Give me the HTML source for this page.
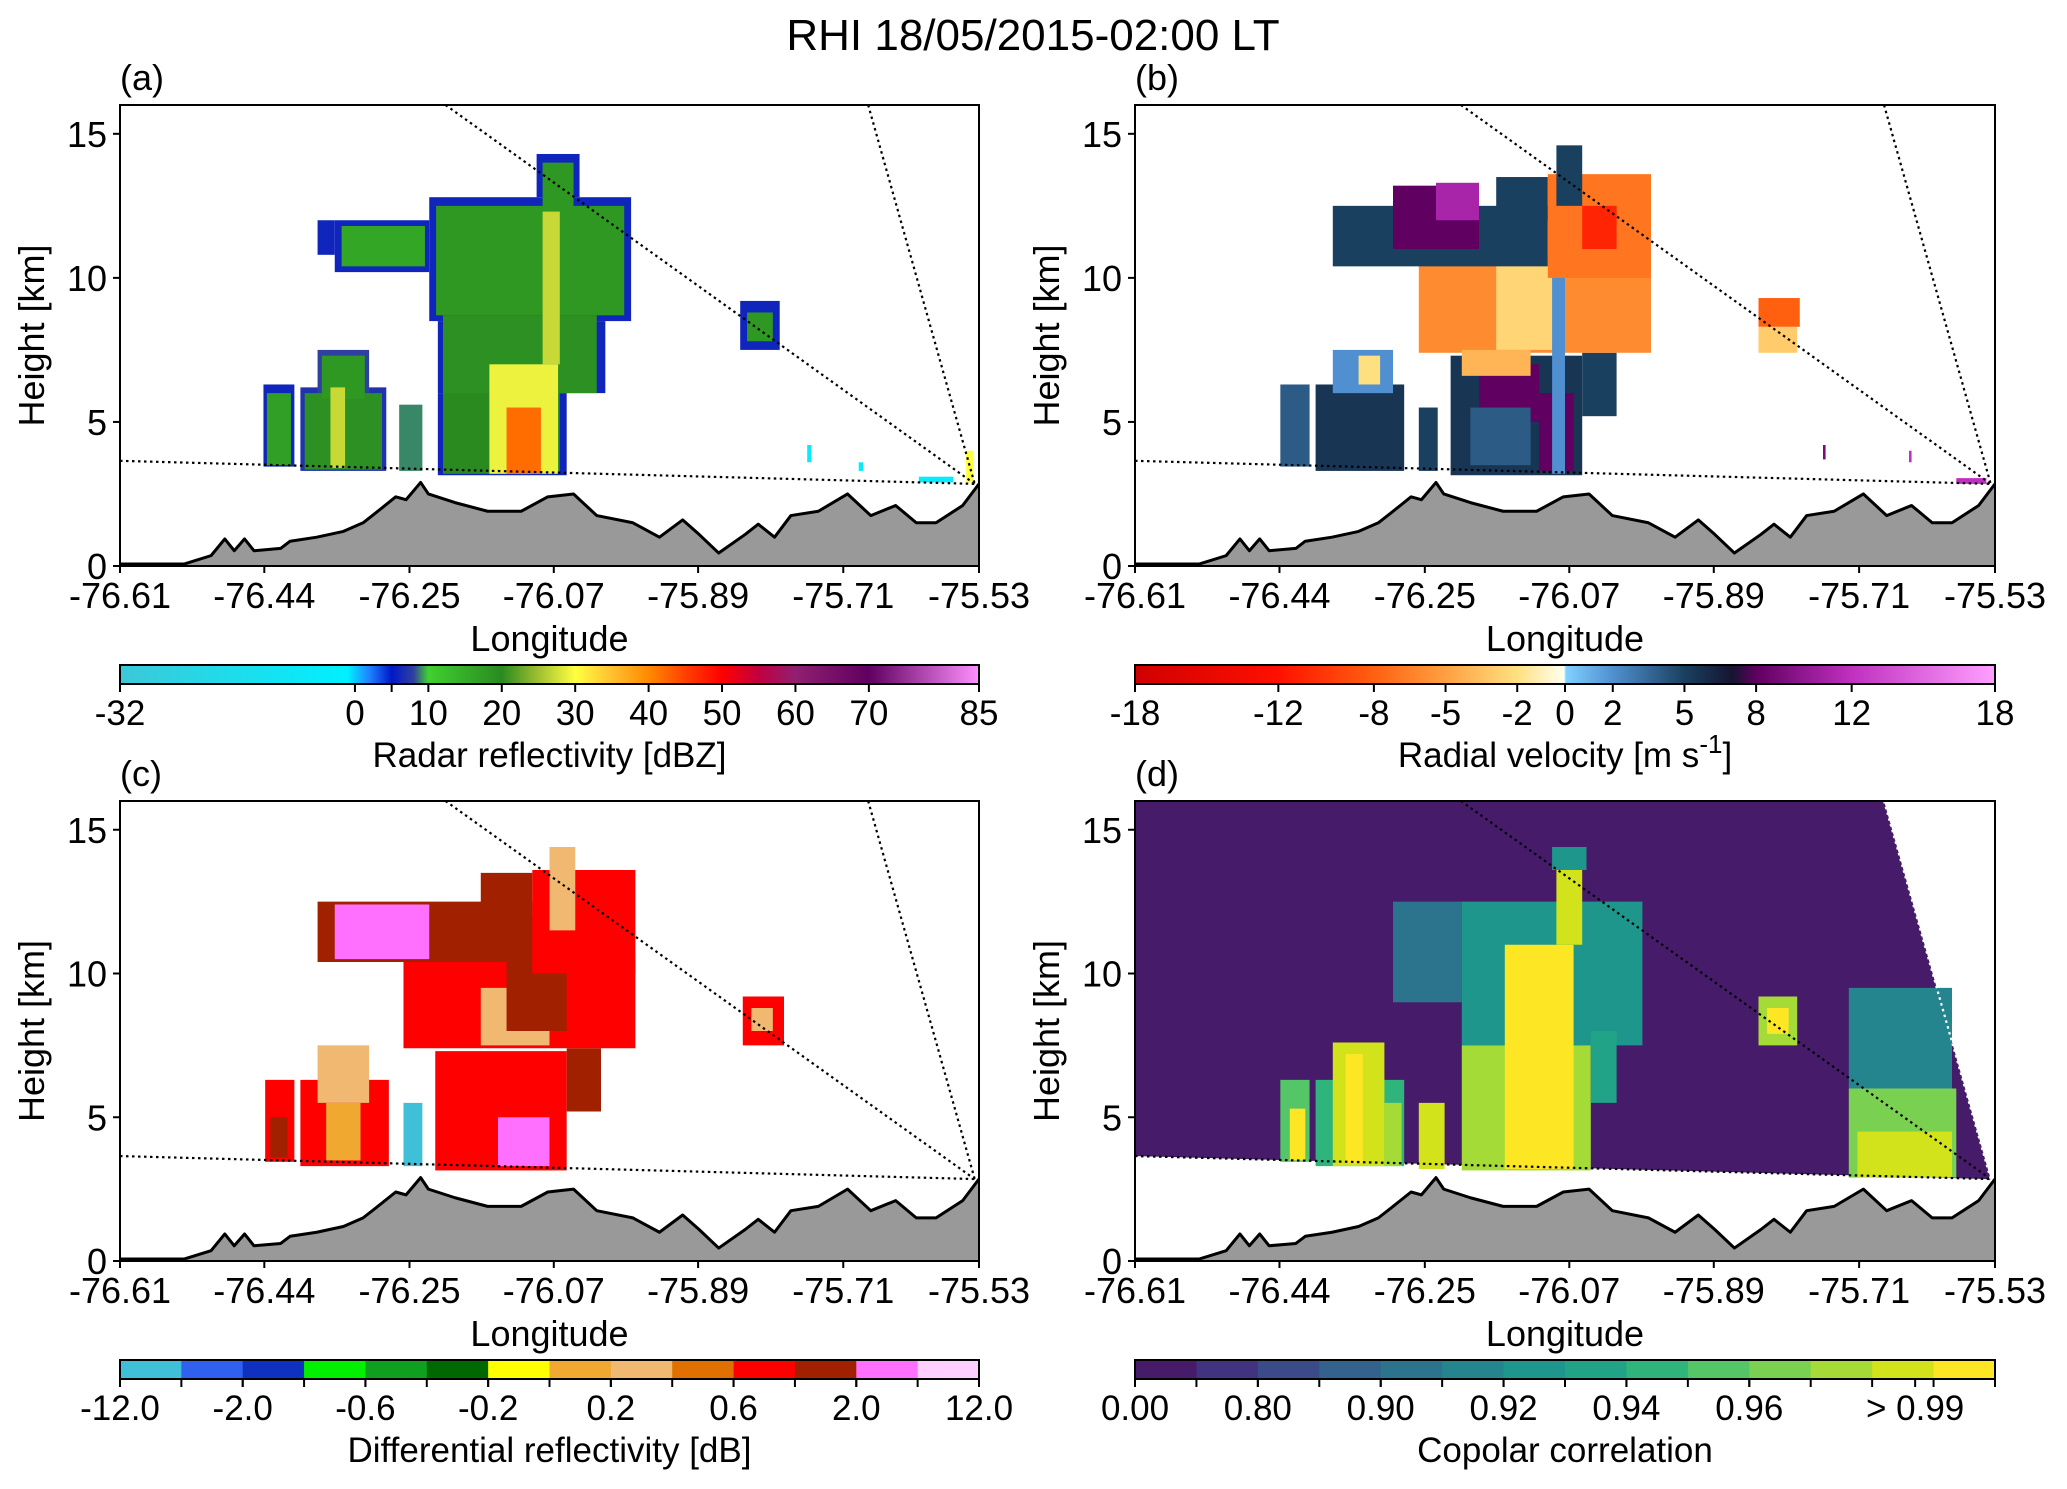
<!DOCTYPE html>
<html><head><meta charset="utf-8">
<style>
html,body{margin:0;padding:0;background:#fff;}
svg{display:block;font-family:"Liberation Sans",sans-serif;}
</style></head>
<body>
<svg id="fig" width="2067" height="1489" viewBox="0 0 2067 1489" xmlns="http://www.w3.org/2000/svg">
<text x="1033" y="50" font-size="44" text-anchor="middle">RHI 18/05/2015-02:00 LT</text>
</svg>
<script>
// ---------- DATA ----------
const xTickLabels = ["-76.61","-76.44","-76.25","-76.07","-75.89","-75.71","-75.53"];
const xTickFrac = [0,0.168,0.337,0.505,0.673,0.842,1.0];
const yTicks = [0,5,10,15];
// terrain profile: [x fraction, height km]
const terrainX = [0,0.075,0.106,0.122,0.133,0.145,0.156,0.187,0.198,0.229,0.26,0.283,0.298,0.321,0.333,0.35,0.359,0.39,0.428,0.467,0.498,0.528,0.555,0.597,0.628,0.655,0.674,0.697,0.728,0.743,0.762,0.781,0.813,0.847,0.874,0.903,0.927,0.95,0.981,1.0];
const terrainH = [0.07,0.07,0.36,0.94,0.53,0.94,0.53,0.61,0.86,1.0,1.2,1.5,1.85,2.4,2.3,2.9,2.5,2.2,1.9,1.9,2.4,2.5,1.75,1.5,1.0,1.6,1.1,0.45,1.1,1.45,1.0,1.75,1.9,2.5,1.75,2.1,1.5,1.5,2.1,2.85];
// beam lines [x0,h0,x1,h1]
const beamLow = [0,3.65,0.995,2.85];
const beamHigh = [0.379,16,0.995,2.85];
const beamRight = [0.871,16,0.995,2.85];

// echoes: [x0,x1,bottom km,top km,value]
const echoA = [
 [0.167,0.203,3.45,6.3,6],[0.171,0.199,3.5,6.0,17],
 [0.21,0.31,3.3,6.2,7],[0.23,0.29,6.0,7.5,8],[0.215,0.305,3.35,6.0,19],[0.235,0.285,5.8,7.3,18],[0.245,0.262,3.4,6.2,27],
 [0.325,0.352,3.3,5.6,9],
 [0.23,0.25,10.8,12.0,6],[0.25,0.36,10.2,12.0,6],[0.36,0.595,8.5,12.8,6],[0.37,0.52,3.15,6.0,6],[0.37,0.565,6.0,8.5,6],[0.485,0.535,12.8,14.3,6],
 [0.258,0.355,10.4,11.8,16],[0.368,0.587,8.7,12.5,18],[0.376,0.512,3.2,6.0,20],[0.376,0.555,6.0,8.7,19],[0.492,0.528,12.3,14.0,18],
 [0.43,0.51,3.2,7.0,29],[0.492,0.512,7.0,12.3,27],[0.45,0.49,3.2,5.5,42],
 [0.722,0.768,7.5,9.2,6],[0.73,0.76,7.8,8.8,18],
 [0.985,0.993,2.9,4.0,30],[0.8,0.805,3.6,4.2,-5],[0.86,0.865,3.3,3.6,-5],[0.93,0.97,2.9,3.1,-5]
];
const echoB = [
 [0.169,0.203,3.45,6.3,4],
 [0.21,0.313,3.3,6.3,5.5],[0.23,0.3,6.0,7.5,2],[0.26,0.285,6.3,7.3,-2],
 [0.33,0.352,3.3,5.5,5],
 [0.367,0.52,3.15,7.3,5.5],[0.52,0.56,5.2,7.4,5],[0.4,0.47,5.0,7.0,8],[0.47,0.51,3.3,6.0,8],[0.39,0.46,3.5,5.5,4],
 [0.33,0.6,7.4,10.5,-6],[0.42,0.5,7.5,10.5,-2.5],[0.38,0.46,6.6,7.5,-4],[0.485,0.5,3.2,12,2],
 [0.23,0.48,10.4,12.5,5],[0.3,0.4,11,13.2,8],[0.35,0.4,12,13.3,11],[0.42,0.48,12,13.5,5],
 [0.48,0.6,10,13.6,-7],[0.52,0.56,11,12.5,-11],[0.49,0.52,12.5,14.6,5],
 [0.725,0.773,8.3,9.3,-8],[0.725,0.77,7.4,8.3,-3],
 [0.8,0.803,3.7,4.2,9],[0.9,0.903,3.6,4.0,12],[0.955,0.99,2.85,3.05,12]
];
const echoC = [
 [0.169,0.203,3.45,6.3,10],[0.175,0.195,3.6,5.0,11],
 [0.21,0.313,3.3,6.3,10],[0.23,0.29,5.5,7.5,8],[0.24,0.28,3.5,5.5,7],
 [0.33,0.352,3.3,5.5,0],
 [0.367,0.52,3.15,7.3,10],[0.52,0.56,5.2,7.4,11],[0.44,0.5,3.3,5.0,12],
 [0.33,0.6,7.4,10.5,10],[0.42,0.5,7.5,9.5,8],
 [0.23,0.48,10.4,12.5,11],[0.25,0.36,10.5,12.4,12],[0.42,0.48,12,13.5,11],[0.45,0.52,8,12,11],
 [0.48,0.6,10,13.6,10],[0.5,0.53,11.5,14.4,8],
 [0.725,0.773,7.5,9.2,10],[0.735,0.76,8,8.8,8]
];
const echoD = [
 [0.169,0.203,3.45,6.3,9],[0.18,0.198,3.5,5.3,13],
 [0.21,0.313,3.3,6.3,8],[0.23,0.29,3.3,7.6,12],[0.245,0.265,3.4,7.2,13],[0.29,0.31,3.3,5.5,11],
 [0.33,0.36,3.2,5.5,12],
 [0.3,0.38,9,12.5,4],[0.38,0.59,7.5,12.5,6],[0.38,0.53,3.15,7.5,11],[0.53,0.56,5.5,8,7],
 [0.43,0.51,3.2,11,13],[0.49,0.52,11,13.6,12],[0.485,0.525,13.6,14.4,6],
 [0.725,0.77,7.5,9.2,11],[0.735,0.76,7.9,8.8,13],
 [0.83,0.95,6,9.5,5],[0.83,0.955,2.9,6,10],[0.84,0.95,2.9,4.5,12]
];
// colour scales
const zStops=[-32,-1,2,5,8,10,20,25,30,35,40,45,50,55,60,70,85];
const zCols=["#3cc8d8","#00f0ff","#2080ff","#0018c8","#3040a0","#40d030","#2a8a20","#a0c030","#ffff40","#ffc030","#ff8a00","#ff4000","#ff0000","#c00040","#902070","#600060","#ff90ff"];
const zTicks=[-32,0,10,20,30,40,50,60,70,85];
const vStops=[-18,-12,-8,-5,-2,-0.05,0.05,2,5,7,8,12,18];
const vCols=["#d00000","#ff1000","#ff6010","#ffa040","#ffe080","#fffff0","#80d0ff","#5090d0","#1a4060","#151530","#600060","#c030c0","#ffa0ff"];
const vTicks=[-18,-12,-8,-5,-2,0,2,5,8,12,18];
const cCols=["#40c0d8","#3060f0","#1030c0","#00f000","#10a020","#006800","#ffff00","#f0a830","#f0b870","#e07000","#ff0000","#a02000","#ff70ff","#ffd0ff"];
const cTickLabels=["-12.0","-2.0","-0.6","-0.2","0.2","0.6","2.0","12.0"];
const dCols=["#461c6a","#41337f","#3b4b8a","#33628d","#2c738e","#25858e","#1f968b","#20a386","#2fb47c","#55c667","#7ad151","#a5db36","#d2e21b","#fde725"];
const dTickLabels=["0.00","0.80","0.90","0.92","0.94","0.96","> 0.99"];

// ---------- RENDER ----------
const NS="http://www.w3.org/2000/svg";
const svg=document.getElementById('fig');
function mk(tag,attrs,parent){const e=document.createElementNS(NS,tag);for(const k in attrs)e.setAttribute(k,attrs[k]);(parent||svg).appendChild(e);return e;}
function hex(c){return [parseInt(c.substr(1,2),16),parseInt(c.substr(3,2),16),parseInt(c.substr(5,2),16)];}
function interp(stops,cols,v){
  if(v<=stops[0])return cols[0];
  for(let i=1;i<stops.length;i++){if(v<=stops[i]){const t=(v-stops[i-1])/(stops[i]-stops[i-1]);const a=hex(cols[i-1]),b=hex(cols[i]);return 'rgb('+a.map((x,j)=>Math.round(x+(b[j]-x)*t)).join(',')+')';}}
  return cols[cols.length-1];
}
const panels=[
 {id:'a',x0:120,x1:979,top:105,bottom:566,echo:echoA,col:v=>interp(zStops,zCols,v)},
 {id:'b',x0:1135,x1:1995,top:105,bottom:566,echo:echoB,col:v=>interp(vStops,vCols,v)},
 {id:'c',x0:120,x1:979,top:801,bottom:1261,echo:echoC,col:v=>cCols[v]},
 {id:'d',x0:1135,x1:1995,top:801,bottom:1261,echo:echoD,col:v=>dCols[v],bg:true}
];
panels.forEach(p=>{
  const W=p.x1-p.x0,H=p.bottom-p.top;
  const sx=f=>p.x0+f*W, sy=h=>p.bottom-h/16*H;
  const g=mk('g',{});
  
  
  const cid='clip'+p.id;
  const cp=mk('clipPath',{id:cid},g);mk('rect',{x:p.x0,y:p.top,width:W,height:H},cp);
  const plot=mk('g',{'clip-path':'url(#'+cid+')'},g);
  if(p.bg){
    const bg=mk('polygon',{points:[[sx(0),sy(16)],[sx(beamRight[0]),sy(16)],[sx(beamRight[2]),sy(beamRight[3])],[sx(0),sy(beamLow[1])]].map(q=>q.join(',')).join(' '),fill:dCols[0]},plot);
    
    
  }
  p.echo.forEach((r,i)=>{
    const e=mk('rect',{x:sx(r[0]),y:sy(r[3]),width:sx(r[1])-sx(r[0]),height:sy(r[2])-sy(r[3]),fill:p.col(r[4])},plot);
    
    
  });
  // terrain
  let pts=terrainX.map((x,i)=>sx(x)+','+sy(terrainH[i]));
  const tf=mk('polygon',{points:sx(0)+','+sy(0)+' '+pts.join(' ')+' '+sx(1)+','+sy(0),fill:'#999'},plot);
  
  
  const tl=mk('polyline',{points:pts.join(' '),fill:'none',stroke:'#000','stroke-width':3,'stroke-linejoin':'round'},plot);
  
  
  [beamLow,beamHigh,beamRight].forEach(b=>{
    const l=mk('line',{x1:sx(b[0]),y1:sy(b[1]),x2:sx(b[2]),y2:sy(b[3]),stroke:p.bg&&b===beamRight?'#fff':'#000','stroke-width':2.2,'stroke-dasharray':'2.5,3.5'},plot);
    
    
  });
  const fr=mk('rect',{x:p.x0,y:p.top,width:W,height:H,fill:'none',stroke:'#000','stroke-width':2},g);
  
  
  yTicks.forEach(t=>{
    mk('line',{x1:p.x0-7,x2:p.x0,y1:sy(t),y2:sy(t),stroke:'#000','stroke-width':2},g);
    const tx=mk('text',{x:p.x0-13,y:sy(t)+13,'font-size':36,'text-anchor':'end'},g);tx.textContent=t;
    
    
  });
  xTickLabels.forEach((lab,i)=>{
    const x=sx(xTickFrac[i]);
    mk('line',{x1:x,x2:x,y1:p.bottom,y2:p.bottom+7,stroke:'#000','stroke-width':2},g);
    const tx=mk('text',{x:x,y:p.bottom+42,'font-size':36,'text-anchor':'middle'},g);tx.textContent=lab;
    
    
  });
  const xl=mk('text',{x:(p.x0+p.x1)/2,y:p.bottom+85,'font-size':36,'text-anchor':'middle'},g);xl.textContent='Longitude';
  
  
  const yc=(p.top+p.bottom)/2;
  const yl=mk('text',{x:p.x0-76,y:yc,'font-size':36,'text-anchor':'middle',transform:'rotate(-90 '+(p.x0-76)+' '+yc+')'},g);yl.textContent='Height [km]';
  
  
  const pl=mk('text',{x:p.x0,y:p.top-15,'font-size':36},g);pl.textContent='('+p.id+')';
  
  

  // colourbar
  const cy0=p.bottom+99,cy1=p.bottom+118;
  const cb=mk('g',{},g);
  
  
  let ticks=[],title='';
  if(p.id==='a'||p.id==='b'){
    const stops=p.id==='a'?zStops:vStops, cols=p.id==='a'?zCols:vCols;
    const lo=stops[0],hi=stops[stops.length-1];
    const gid='grad'+p.id;
    const lg=mk('linearGradient',{id:gid,x1:0,x2:1,y1:0,y2:0},cb);
    stops.forEach((s,i)=>mk('stop',{offset:(s-lo)/(hi-lo),'stop-color':cols[i]},lg));
    mk('rect',{x:p.x0,y:cy0,width:W,height:cy1-cy0,fill:'url(#'+gid+')'},cb);
    const tv=p.id==='a'?zTicks:vTicks;
    ticks=tv.map(v=>[p.x0+(v-lo)/(hi-lo)*W,String(v)]);
    if(p.id==='a')mk('line',{x1:p.x0+(5-lo)/(hi-lo)*W,x2:p.x0+(5-lo)/(hi-lo)*W,y1:cy1,y2:cy1+8,stroke:'#000','stroke-width':2},cb);
    title=p.id==='a'?'Radar reflectivity [dBZ]':'';
  } else {
    const cols=p.id==='c'?cCols:dCols;const bw=W/cols.length;
    cols.forEach((c,i)=>mk('rect',{x:p.x0+i*bw,y:cy0,width:bw+0.5,height:cy1-cy0,fill:c},cb));
    for(let i=0;i<=cols.length;i++)mk('line',{x1:p.x0+i*bw,x2:p.x0+i*bw,y1:cy1,y2:cy1+8,stroke:'#000','stroke-width':2},cb);
    if(p.id==='c'){ticks=cTickLabels.map((l,i)=>[p.x0+i*2*bw,l]);title='Differential reflectivity [dB]';}
    else{ticks=dTickLabels.map((l,i)=>[i<6?p.x0+i*2*bw:p.x0+12.7*bw,l]);title='Copolar correlation';}
  }
  mk('rect',{x:p.x0,y:cy0,width:W,height:cy1-cy0,fill:'none',stroke:'#000','stroke-width':2},cb);
  ticks.forEach(t=>{
    mk('line',{x1:t[0],x2:t[0],y1:cy1,y2:cy1+8,stroke:'#000','stroke-width':2},cb);
    const tx=mk('text',{x:t[0],y:cy1+41,'font-size':35,'text-anchor':'middle'},cb);tx.textContent=t[1];
    
    
  });
  const ct=mk('text',{x:(p.x0+p.x1)/2,y:cy1+83,'font-size':35,'text-anchor':'middle'},cb);
  if(p.id==='b'){ct.textContent='Radial velocity [m s';const sup=mk('tspan',{dy:-14,'font-size':26},ct);sup.textContent='-1';const r=mk('tspan',{dy:14},ct);r.textContent=']';}
  else ct.textContent=title;
  
  
});
</script>
</body></html>
